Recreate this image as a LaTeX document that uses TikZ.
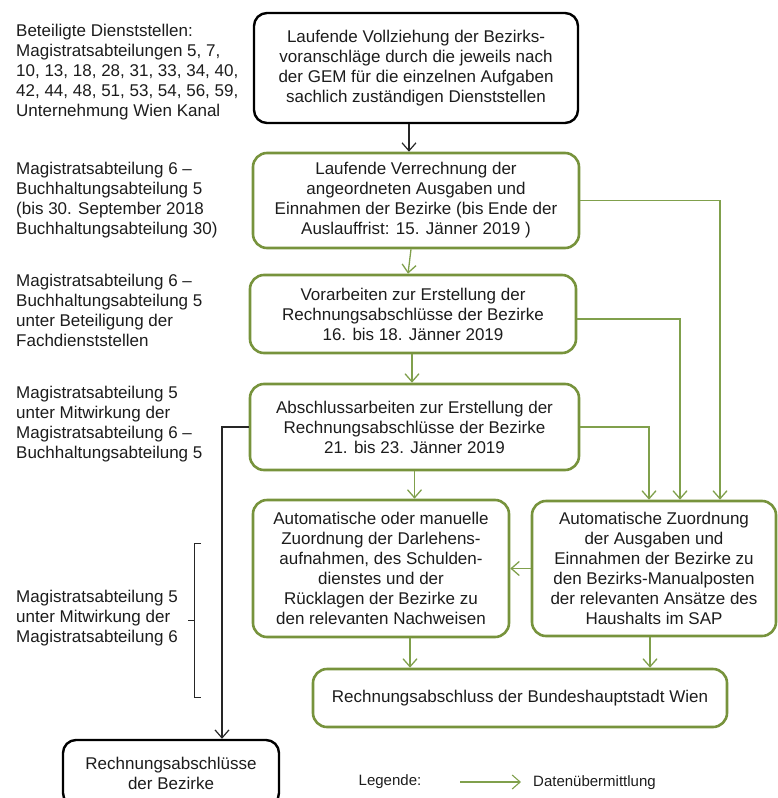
\documentclass[tikz,border=0pt]{standalone}
\usepackage{fontspec}
\setmainfont{Liberation Sans}
\usepackage{tikz}
\usetikzlibrary{positioning,calc,arrows.meta}
\usepackage{xcolor}
\definecolor{boxgreen}{HTML}{77933C}
\definecolor{linegreen}{HTML}{80A04C}
\definecolor{textdark}{HTML}{1C1C1C}

\begin{document}
\begin{tikzpicture}[x=1pt,y=-1pt,
    font=\fontsize{17}{20}\selectfont,
    every node/.style={text=textdark,inner sep=0pt},
    blackbox/.style={draw=black,line width=2.4pt,rounded corners=13pt,align=center},
    greenbox/.style={draw=boxgreen,line width=2.6pt,rounded corners=14pt,align=center},
    sidelabel/.style={anchor=west,align=left},
    flow/.style={draw=linegreen,line width=1.3pt,-{Straight Barb[length=8pt,width=14pt]}},
    blackflow/.style={draw=black!85,line width=1.2pt,-{Straight Barb[length=8pt,width=14pt]}}]
    % page frame, the last box runs off the bottom
    \path[use as bounding box] (0,0) rectangle (778,798);
    \clip (0,0) rectangle (778,798);

    % Responsible offices on the left
    \node[sidelabel] (lbl-dienst) at (16,72) {Beteiligte Dienststellen:\\Magistratsabteilungen 5, 7,\\10, 13, 18, 28, 31, 33, 34, 40,\\42, 44, 48, 51, 53, 54, 56, 59,\\Unternehmung Wien Kanal};
    \node[sidelabel] (lbl-verr) at (16,200) {Magistratsabteilung 6 –\\Buchhaltungsabteilung 5\\(bis 30. September 2018\\Buchhaltungsabteilung 30)};
    \node[sidelabel] (lbl-vor) at (16,310) {Magistratsabteilung 6 –\\Buchhaltungsabteilung 5\\unter Beteiligung der\\Fachdienststellen};
    \node[sidelabel] (lbl-abs) at (16,424) {Magistratsabteilung 5\\unter Mitwirkung der\\Magistratsabteilung 6 –\\Buchhaltungsabteilung 5};
    \node[sidelabel] (lbl-zuord) at (16,618) {Magistratsabteilung 5\\unter Mitwirkung der\\Magistratsabteilung 6};
    \draw[black!85,line width=1pt] (201,543) -- (194,543) -- (194,697) -- (201,697);
    \draw[black!85,line width=1pt] (194,620) -- (188,620);

    % Process chain
    \node[blackbox,minimum width=324,minimum height=110] (vollz) at (416,68) {Laufende Vollziehung der Bezirks-\\voranschläge durch die jeweils nach\\der GEM für die einzelnen Aufgaben\\sachlich zuständigen Dienststellen};
    \node[greenbox,minimum width=326,minimum height=95] (verr) at (416,200.5) {Laufende Verrechnung der\\angeordneten Ausgaben und\\Einnahmen der Bezirke (bis Ende der\\Auslauffrist: 15. Jänner 2019 )};
    \node[greenbox,minimum width=326,minimum height=78] (vorarb) at (413,314) {Vorarbeiten zur Erstellung der\\Rechnungsabschlüsse der Bezirke\\16. bis 18. Jänner 2019};
    \node[greenbox,minimum width=329,minimum height=86] (abschl) at (414.5,427) {Abschlussarbeiten zur Erstellung der\\Rechnungsabschlüsse der Bezirke\\21. bis 23. Jänner 2019};

    % Assignment boxes
    \node[greenbox,minimum width=256,minimum height=137] (darl) at (381,568.5) {Automatische oder manuelle\\Zuordnung der Darlehens-\\aufnahmen, des Schulden-\\dienstes und der\\Rücklagen der Bezirke zu\\den relevanten Nachweisen};
    \node[greenbox,minimum width=244,minimum height=135] (zuord) at (654,568.5) {Automatische Zuordnung\\der Ausgaben und\\Einnahmen der Bezirke zu\\den Bezirks-Manualposten\\der relevanten Ansätze des\\Haushalts im SAP};

    % Results
    \node[greenbox,minimum width=414,minimum height=58] (bhst) at (520,698) {Rechnungsabschluss der Bundeshauptstadt Wien};
    \node[blackbox,minimum width=216,minimum height=66] (rabez) at (171,773) {Rechnungsabschlüsse\\der Bezirke};

    % Arrows
    \draw[blackflow] ([xshift=-7pt]vollz.south) -- ([xshift=-7pt]verr.north);
    \draw[flow] ([xshift=-5pt]verr.south) -- ([xshift=-5pt]vorarb.north);
    \draw[flow] ([xshift=-1pt]vorarb.south) -- ([xshift=-1pt]vorarb.south |- abschl.north);
    \draw[flow] (abschl.south) -- (abschl.south |- darl.north);
    \draw[flow] (verr.east) -| ([xshift=66pt]zuord.north);
    \draw[flow] ([yshift=-5pt]vorarb.east) -| ([xshift=26pt]zuord.north);
    \draw[flow] (abschl.east) -| ([xshift=-5pt]zuord.north);
    \draw[flow] (zuord.west) -- (darl.east);
    \draw[flow] ([xshift=29pt]darl.south) -- ([xshift=29pt]darl.south |- bhst.north);
    \draw[flow] ([xshift=-4pt]zuord.south) -- ([xshift=-4pt]zuord.south |- bhst.north);
    \draw[blackflow] (abschl.west) -| ([xshift=51pt]rabez.north);

    % Legend
    \node[font=\fontsize{15}{18}\selectfont] (leg-text) at (390,782) {Legende:};
    \coordinate (leg-a) at (460,782);
    \coordinate (leg-b) at (521,782);
    \draw[flow,line width=1.1pt] (leg-a) -- (leg-b);
    \node[font=\fontsize{15}{18}\selectfont,anchor=west] (leg-daten) at (533,783) {Datenübermittlung};
\end{tikzpicture}
\end{document}
